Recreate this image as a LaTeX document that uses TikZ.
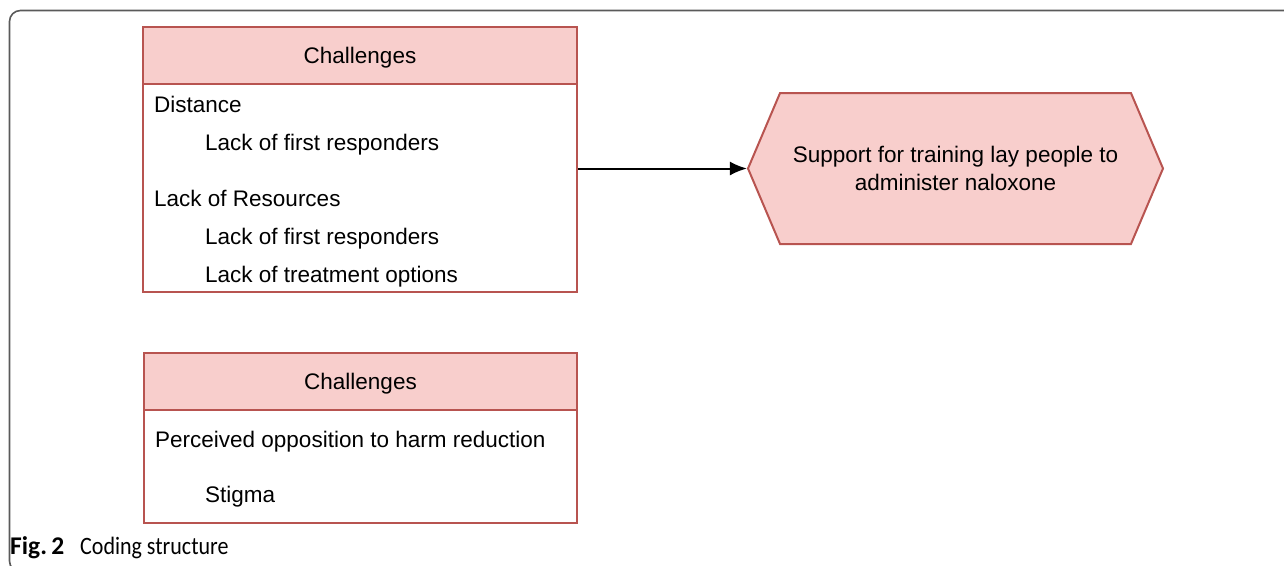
\documentclass[tikz,border=0pt]{standalone}
\usepackage{fontspec}
\setmainfont{Liberation Sans}
\newfontfamily\capfont{Carlito}
\newfontfamily\capnarrow[FakeStretch=0.88]{Carlito}
\usetikzlibrary{shapes.symbols,arrows.meta}
\definecolor{boxfill}{HTML}{F8CECC}
\definecolor{boxline}{HTML}{B85450}
\definecolor{framegray}{HTML}{5A5A5A}
\begin{document}
\begin{tikzpicture}[x=1pt,y=-1pt,
  hdr/.style={draw=boxline,fill=boxfill,line width=2pt,rectangle,inner sep=0pt,
    font=\fontsize{22.5}{26}\selectfont},
  bodybox/.style={draw=boxline,fill=white,line width=2pt,rectangle,inner sep=0pt},
  item/.style={anchor=base west,inner sep=0pt,font=\fontsize{22.5}{26}\selectfont},
  hexbox/.style={signal,signal to=east and west,signal pointer angle=134,draw=boxline,
    fill=boxfill,line width=2pt,minimum width=415pt,minimum height=151pt,inner sep=0pt,
    align=center,font=\fontsize{22.5}{28}\selectfont},
  conn/.style={line width=2pt,-{Latex[length=17pt,width=14pt]}},
  captext/.style={anchor=base west,inner sep=0pt},
]
\useasboundingbox (0,0) rectangle (1284,565);
% frame
\draw[framegray,line width=1.6pt,rounded corners=11pt] (1300,10.5) -- (9.5,10.5) -- (9.5,572) -- (40,572);
% box 1
\node[bodybox,minimum width=434pt,minimum height=208pt] (b1) at (360,187.5) {};
\node[hdr,minimum width=434pt,minimum height=57pt,text depth=0pt,text height=16pt] (h1) at (360,55.5) {Challenges};
\node[item] (t1) at (154,112.5) {Distance};
\node[item] (t2) at (205,150) {Lack of first responders};
\node[item] (t3) at (154,206.5) {Lack of Resources};
\node[item] (t4) at (205,244.5) {Lack of first responders};
\node[item] (t5) at (205,282) {Lack of treatment options};
% box 2
\node[bodybox,minimum width=433pt,minimum height=113pt] (b2) at (360.5,466.5) {};
\node[hdr,minimum width=433pt,minimum height=57pt,text depth=0pt,text height=16pt] (h2) at (360.5,381.5) {Challenges};
\node[item] (s1) at (155,447.5) {Perceived opposition to harm reduction};
\node[item] (s2) at (205,502.5) {Stigma};
% hexagon
\node[hexbox] (hx) at (955.5,168.5) {Support for training lay people to\\administer naloxone};
\draw[conn] (b1.east |- hx.west) -- (hx.west);
% caption
\node[captext,font=\capfont\fontsize{25.5}{28}\selectfont\bfseries] (fig) at (10,554) {Fig.\,2};
\node[captext,font=\capnarrow\fontsize{25}{28}\selectfont] (cap) at (80,554) {Coding structure};
\end{tikzpicture}
\end{document}
